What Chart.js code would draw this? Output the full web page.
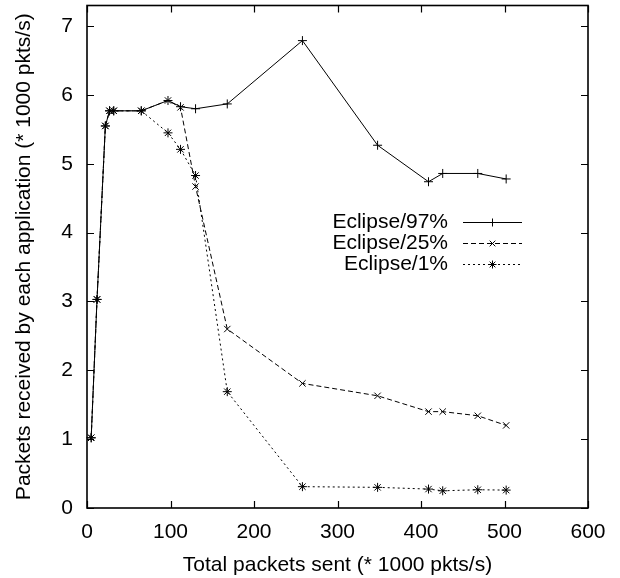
<!DOCTYPE html>
<html>
<head>
<meta charset="utf-8">
<script src="https://cdn.jsdelivr.net/npm/chart.js@4.4.1/dist/chart.umd.min.js"></script>
<style>
  html, body { margin: 0; padding: 0; background: #fff; }
  #wrap { width: 620px; height: 578px; }
</style>
</head>
<body>
<div id="wrap"><canvas id="c" width="620" height="578"></canvas></div>
<script>
// ---- data ----
const sent = [5, 12, 22, 27, 32, 65, 97, 112, 130, 168, 258, 348, 409, 426, 468, 502];
const eclipse97 = [1.02, 3.03, 5.55, 5.77, 5.77, 5.77, 5.92, 5.83, 5.80, 5.87, 6.79, 5.27, 4.74, 4.86, 4.86, 4.78];
const eclipse25 = [1.02, 3.03, 5.55, 5.77, 5.77, 5.77, 5.92, 5.82, 4.67, 2.60, 1.81, 1.63, 1.40, 1.40, 1.34, 1.20];
const eclipse1  = [1.02, 3.03, 5.55, 5.77, 5.77, 5.77, 5.45, 5.21, 4.83, 1.69, 0.31, 0.30, 0.275, 0.25, 0.265, 0.26];
const seriesLabels = ['Eclipse/97%', 'Eclipse/25%', 'Eclipse/1%'];
const xTicks = [0, 100, 200, 300, 400, 500, 600];
const yTicks = [0, 1, 2, 3, 4, 5, 6, 7];
const xTitle = 'Total packets sent (* 1000 pkts/s)';
const yTitle = 'Packets received by each application (* 1000 pkts/s)';
const xRange = [0, 600];
const yRange = [0, 7.3];

const FONT = 'Liberation Sans, Arial, Helvetica, sans-serif';
const FS = 21;

function pts(ys) { return sent.map((x, i) => ({ x: x, y: ys[i] })); }

const styles = [
  { dash: [], marker: 'cross' },
  { dash: [5, 3], marker: 'crossRot' },
  { dash: [2, 3], marker: 'star' }
];
const values = [eclipse97, eclipse25, eclipse1];

const datasets = values.map((v, i) => ({
  label: seriesLabels[i],
  data: pts(v),
  borderColor: '#000',
  backgroundColor: '#000',
  borderWidth: 1,
  borderDash: styles[i].dash,
  pointStyle: styles[i].marker,
  pointRadius: 4.5,
  pointBorderWidth: 1,
  pointBorderColor: '#000',
  pointHoverRadius: 4.5,
  tension: 0,
  fill: false,
  clip: false
}));

// frame, inward ticks and the key
const framePlugin = {
  id: 'frame',
  afterDraw(chart) {
    const ctx = chart.ctx;
    const a = chart.chartArea;
    const xs = chart.scales.x, ys = chart.scales.y;
    ctx.save();
    ctx.strokeStyle = '#000';
    ctx.lineWidth = 1.6;
    ctx.setLineDash([]);
    ctx.strokeRect(a.left, a.top, a.right - a.left, a.bottom - a.top);
    ctx.lineWidth = 1.2;
    const L = 7;
    ctx.beginPath();
    xTicks.forEach(v => {
      const px = Math.round(xs.getPixelForValue(v)) + 0.5;
      ctx.moveTo(px, a.bottom); ctx.lineTo(px, a.bottom - L);
      ctx.moveTo(px, a.top); ctx.lineTo(px, a.top + L);
    });
    yTicks.forEach(v => {
      const py = Math.round(ys.getPixelForValue(v)) + 0.5;
      ctx.moveTo(a.left, py); ctx.lineTo(a.left + L, py);
      ctx.moveTo(a.right, py); ctx.lineTo(a.right - L, py);
    });
    ctx.stroke();

    // key
    const textRight = 448, lineL = 463, lineR = 522;
    const rows = [222, 243, 264];
    ctx.font = FS + 'px ' + FONT;
    ctx.fillStyle = '#000';
    ctx.textAlign = 'right';
    ctx.textBaseline = 'middle';
    chart.data.datasets.forEach((ds, i) => {
      const y = rows[i];
      ctx.fillText(ds.label, textRight, y);
      ctx.lineWidth = 1;
      ctx.setLineDash(ds.borderDash || []);
      ctx.beginPath();
      ctx.moveTo(lineL, y + 0.5); ctx.lineTo(lineR, y + 0.5);
      ctx.stroke();
      ctx.setLineDash([]);
      Chart.helpers.drawPoint(ctx, { pointStyle: ds.pointStyle, radius: 4, borderWidth: 1 }, (lineL + lineR) / 2, y + 0.5);
    });
    ctx.restore();
  }
};

new Chart(document.getElementById('c'), {
  type: 'line',
  data: { datasets: datasets },
  plugins: [framePlugin],
  options: {
    responsive: false,
    animation: false,
    events: [],
    layout: { padding: { top: 4, right: 32, left: 0, bottom: 0 } },
    plugins: { legend: { display: false }, tooltip: { enabled: false } },
    scales: {
      x: {
        type: 'linear',
        bounds: 'data',
        min: xRange[0], max: xRange[1],
        afterBuildTicks(s) { s.ticks = xTicks.map(v => ({ value: v })); },
        afterFit(s) { s.height = 70; s.paddingLeft = 0; s.paddingRight = 0; },
        grid: { display: false, drawTicks: false },
        border: { display: false },
        ticks: { color: '#000', font: { family: FONT, size: FS }, padding: 12, maxRotation: 0 },
        title: { display: true, text: xTitle, color: '#000', font: { family: FONT, size: FS }, padding: { top: 1, bottom: 0 } }
      },
      y: {
        type: 'linear',
        bounds: 'data',
        min: yRange[0], max: yRange[1],
        afterBuildTicks(s) { s.ticks = yTicks.map(v => ({ value: v })); },
        afterFit(s) { s.width = 87; s.paddingTop = 0; s.paddingBottom = 0; },
        grid: { display: false, drawTicks: false },
        border: { display: false },
        ticks: { color: '#000', font: { family: FONT, size: FS }, padding: 14 },
        title: { display: true, text: yTitle, color: '#000', font: { family: FONT, size: FS }, padding: { top: 12, bottom: 0 } }
      }
    }
  }
});
</script>
</body>
</html>
